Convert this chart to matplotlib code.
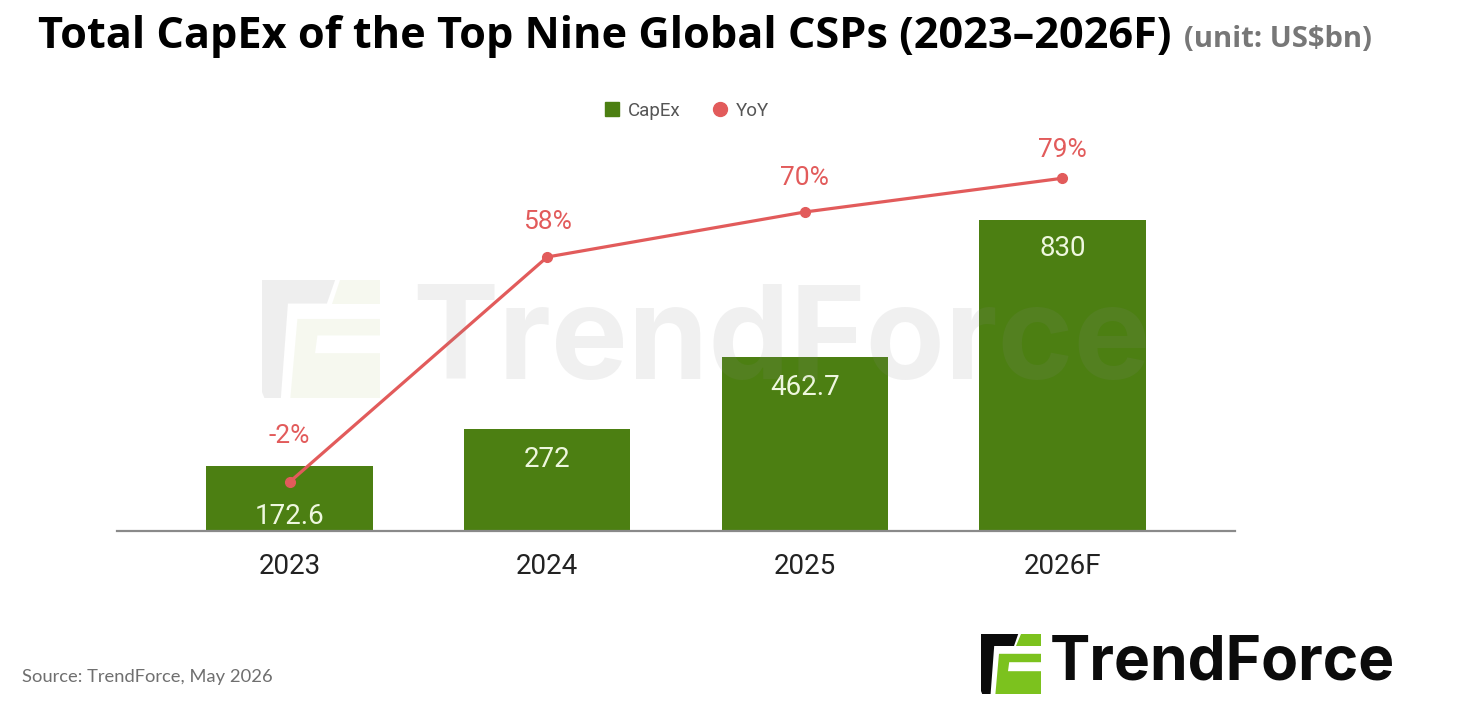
import numpy as np
import matplotlib.pyplot as plt
from matplotlib.patches import Polygon
from matplotlib.lines import Line2D

# Data
years = ["2023", "2024", "2025", "2026F"]
capex = [172.6, 272, 462.7, 830]
yoy = [-2, 58, 70, 79]

# style-only vertical offsets for labels (pixels)
capex_label_offset = [-50, -30, -30, -29]
yoy_label_offset = [46, 35, 34, 28]

GREEN = "#4c7f12"
RED = "#e25b5b"
LABEL_GREEN = "#eef7de"

W, H = 1458, 716
DPI = 100
plt.rcParams["font.family"] = ["Roboto", "DejaVu Sans"]

fig = plt.figure(figsize=(W / DPI, H / DPI), dpi=DPI)


def px(x, y):
    # pixel coords (top-left origin) -> figure fraction
    return x / W, 1 - y / H


ax_left, ax_right, ax_bottom, ax_top = 117, 1235, 531, 140
l, b = px(ax_left, ax_bottom)
r, t = px(ax_right, ax_top)
ax = fig.add_axes([l, b, r - l, t - b])

x = np.arange(len(years))
ppx_bar = 0.375  # pixels per US$bn
ax.set_ylim(0, (ax_bottom - ax_top) / ppx_bar)
ax.set_xlim(-0.67, len(years) - 1 + 0.67)
bars = ax.bar(x, capex, width=0.646, color=GREEN, zorder=2)

for xi, v, off in zip(x, capex, capex_label_offset):
    ax.annotate(f"{v:g}", (xi, v), xytext=(0, off * 72 / DPI), textcoords="offset points",
                ha="center", va="center", fontsize=20, color=LABEL_GREEN, zorder=3)

for s in ["top", "right", "left"]:
    ax.spines[s].set_visible(False)
ax.spines["bottom"].set_color("#8a8a8a")
ax.spines["bottom"].set_linewidth(1.6)
ax.set_yticks([])
ax.set_xticks(x, years)
ax.tick_params(axis="x", length=0, pad=16, labelsize=20, labelcolor="#222222")

# secondary axis for YoY
ax2 = ax.twinx()
ppx_pct = 3.75
zero_px = 474.5
ax2.set_ylim(-(ax_bottom - zero_px) / ppx_pct, (zero_px - ax_top) / ppx_pct)
ax2.axis("off")
ax2.plot(x, yoy, color=RED, lw=2.3, marker="o", markersize=7, zorder=4)
for xi, v, off in zip(x, yoy, yoy_label_offset):
    ax2.annotate(f"{v}%", (xi, v), xytext=(0, off * 72 / DPI), textcoords="offset points",
                 ha="center", va="center", fontsize=19, color=RED)

# legend
handles = [Line2D([], [], marker="s", ls="", color=GREEN, markersize=10),
           Line2D([], [], marker="o", ls="", color=RED, markersize=10)]
fig.legend(handles, ["CapEx", "YoY"], loc="center", bbox_to_anchor=px(686, 111), ncol=2,
           frameon=False, fontsize=13.5, labelcolor="#555555", handletextpad=0.35,
           columnspacing=1.6, handlelength=1.0)

# title
tx, ty = px(38, 37)
title = fig.text(tx, ty, "Total CapEx of the Top Nine Global CSPs (2023\u20132026F)",
                 fontsize=31, fontweight="bold", family=["Open Sans", "DejaVu Sans"],
                 va="center", ha="left", color="#000000")
fig.canvas.draw()
bb = title.get_window_extent()
title.set_fontsize(31 * 1132 / bb.width)
fig.canvas.draw()
bb = title.get_window_extent()
fig.text((bb.x1 + 13) / W, ty - 0.004, "(unit: US$bn)", fontsize=21, fontweight="bold",
         family=["Open Sans", "DejaVu Sans"], va="center", ha="left", color="#777777")

# source
fig.text(*px(22, 677), "Source: TrendForce, May 2026", fontsize=13.2,
         family=["Lato", "DejaVu Sans"], color="#6f6f6f", va="center", ha="left")

# logo layer in pixel coordinates
logo_ax = fig.add_axes([0, 0, 1, 1], zorder=10)
logo_ax.set_xlim(0, W)
logo_ax.set_ylim(H, 0)
logo_ax.axis("off")


def draw_logo(x0, y0, s, black, green, alpha=1.0):
    # icon in unit square (0..1, top-left origin), scaled by s
    blk = [(0, 0), (0.62, 0), (0.55, 0.2), (0.22, 0.2), (0.16, 1.0), (0.02, 1.0), (0, 0.95)]
    grn_top = [(0.66, 0), (1, 0), (1, 0.2), (0.59, 0.2)]
    grn_low = [(0.30, 0.33), (1, 0.33), (1, 0.47), (0.47, 0.47), (0.45, 0.62),
               (1, 0.62), (1, 1.0), (0.24, 1.0)]
    for shape, c in [(blk, black), (grn_top, green), (grn_low, green)]:
        pts = [(x0 + u * s, y0 + v * s) for u, v in shape]
        logo_ax.add_patch(Polygon(pts, closed=True, fc=c, ec="none", alpha=alpha))


draw_logo(981, 634, 60, "#0b0b0b", "#7cc21e")
logo_ax.text(1050, 664, "TrendForce", fontsize=43.5, fontweight="bold",
             family=["Inter", "DejaVu Sans"], color="#0b0b0b", va="center", ha="left")

# watermark
draw_logo(262, 280, 118, "#9a9a9a", "#c9d8a0", alpha=0.16)
logo_ax.text(412, 345, "TrendForce", fontsize=93, fontweight="bold",
             family=["Inter", "DejaVu Sans"], color="#888888", alpha=0.12,
             va="center", ha="left")

fig.savefig("out.png", dpi=DPI)
